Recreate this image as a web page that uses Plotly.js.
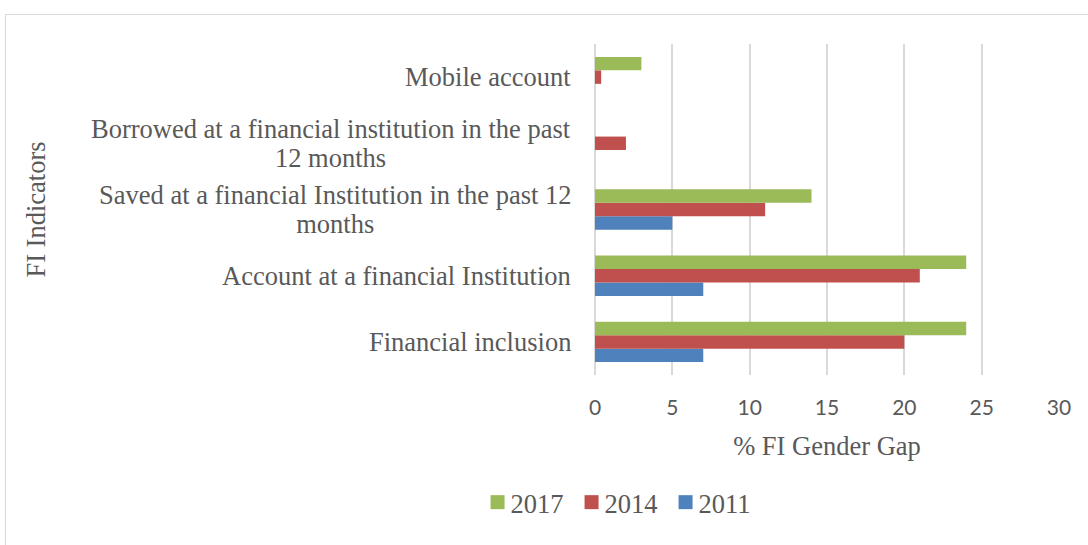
<!DOCTYPE html>
<html>
<head>
<meta charset="utf-8">
<script src="https://cdn.plot.ly/plotly-3.0.1.min.js"></script>
<style>
html,body{margin:0;padding:0;width:1088px;height:545px;overflow:hidden;background:#fff;}
#frame{position:absolute;left:5px;top:14px;width:1200px;height:700px;border:1.5px solid #d9d9d9;box-sizing:border-box;pointer-events:none;}
#chart{position:absolute;left:0;top:0;width:1088px;height:545px;}
</style>
</head>
<body>
<div id="chart"></div>
<div id="frame"></div>
<script>
var categories = [
  "Financial inclusion",
  "Account at a financial Institution",
  "Saved at a financial Institution in the past 12<br>months",
  "Borrowed at a financial institution in the past<br>12 months",
  "Mobile account"
];
var values2011 = [7, 7, 5, null, null];
var values2014 = [20, 21, 11, 2, 0.4];
var values2017 = [24, 24, 14, null, 3];
var xTicks = [0, 5, 10, 15, 20, 25, 30];

var serif = "Liberation Serif, Times New Roman, serif";
var textColor = "#595959";
var labelSize = 26.5;

var traces = [
  {name: "2011", x: values2011, y: categories, type: "bar", orientation: "h", marker: {color: "#4f81bd"}},
  {name: "2014", x: values2014, y: categories, type: "bar", orientation: "h", marker: {color: "#c0504d"}},
  {name: "2017", x: values2017, y: categories, type: "bar", orientation: "h", marker: {color: "#9bbb59"}}
];

var annotations = categories.map(function(c){
  var html = c.split("<br>").map(function(l){
    return '<span style="font-size:' + labelSize + 'px">' + l + '</span>';
  }).join("<br>");
  return {xref: "paper", yref: "y", x: 0, y: c, xanchor: "right", yanchor: "middle",
    xshift: -22, text: html, showarrow: false, align: "center",
    font: {family: serif, size: 22, color: textColor}};
});

var layout = {
  width: 1088, height: 545,
  margin: {l: 595, r: 29, t: 44, b: 170},
  paper_bgcolor: "#fff", plot_bgcolor: "#fff",
  barmode: "group", bargap: 0.39, bargroupgap: 0,
  showlegend: true,
  legend: {orientation: "h", traceorder: "reversed", x: -0.21, xanchor: "left", y: -0.385, yanchor: "middle",
           font: {family: serif, size: labelSize, color: textColor}, entrywidth: 49, entrywidthmode: "pixels"},
  xaxis: {range: [0, 30], tickvals: xTicks, ticktext: xTicks.map(String), showgrid: true, gridcolor: "#d9d9d9", gridwidth: 2,
          zeroline: true, zerolinecolor: "#d9d9d9", zerolinewidth: 2, showline: false, ticks: "", ticklabelstandoff: 18,
          tickfont: {family: "Lato, Open Sans, sans-serif", size: 21, color: textColor},
          title: {text: "% FI Gender Gap", font: {family: serif, size: labelSize, color: textColor}, standoff: 18},
          fixedrange: true},
  yaxis: {type: "category", categoryorder: "array", categoryarray: categories, showticklabels: false,
          showgrid: false, zeroline: false, showline: false, ticks: "",
          title: {text: "FI Indicators", font: {family: serif, size: labelSize, color: textColor}},
          fixedrange: true},
  annotations: annotations
};

Plotly.newPlot("chart", traces, layout, {displayModeBar: false, staticPlot: true}).then(function(){
  var t = document.querySelector(".g-ytitle text");
  if (t) {
    t.setAttribute("x", 45);
    t.setAttribute("transform", "rotate(-90,45," + t.getAttribute("y") + ")");
  }
  document.querySelectorAll(".legend [clip-path]").forEach(function(e){ e.removeAttribute("clip-path"); });
  document.querySelectorAll(".legend .traces").forEach(function(g){
    var p = g.querySelector(".legendpoints path");
    var tx = g.querySelector("text.legendtext");
    if (!p || !tx) return;
    p.setAttribute("d", "M7,7H-7V-7H7Z");
    p.removeAttribute("transform");
    var pb = p.getBoundingClientRect();
    var tb = tx.getBoundingClientRect();
    var dx = (pb.right + 6) - tb.left;
    tx.setAttribute("transform", "translate(" + dx + ",0)");
  });
});
</script>
</body>
</html>
